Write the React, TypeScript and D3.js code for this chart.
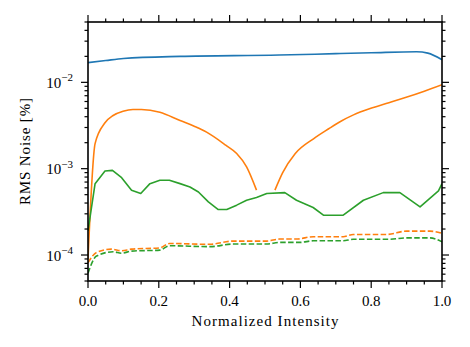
import React from "react";
import * as d3 from "d3";

const blueX = [0, 0.05, 0.1, 0.26, 0.54, 0.7, 0.8, 0.928, 0.96, 1.0];
const blueY = [0.0169, 0.0179, 0.0189, 0.02, 0.0207, 0.0215, 0.022, 0.0226, 0.0218, 0.0183];

const orangeX = [0, 0.02, 0.048, 0.071, 0.099, 0.127, 0.151, 0.203, 0.26, 0.3, 0.335, 0.39, 0.42, 0.448, 0.476, 0.5,
  0.528, 0.55, 0.585, 0.637, 0.68, 0.712, 0.75, 0.797, 0.85, 0.89, 0.95, 1.0];
const orangeY = [9e-5, 0.00195, 0.0034, 0.00413, 0.00463, 0.00485, 0.00485, 0.00451, 0.00361, 0.0031, 0.00265, 0.00186, 0.0015, 0.00105, 0.000564, NaN,
  0.000564, 0.0009, 0.00149, 0.00222, 0.0029, 0.0035, 0.0042, 0.00497, 0.0058, 0.00653, 0.0079, 0.0094];

const greenX = [0, 0.02, 0.048, 0.069, 0.095, 0.123, 0.149, 0.175, 0.203, 0.23, 0.26, 0.288, 0.312, 0.34, 0.368, 0.392,
  0.42, 0.448, 0.476, 0.505, 0.556, 0.589, 0.636, 0.665, 0.721, 0.778, 0.834, 0.881, 0.938, 0.99, 1.0];
const greenY = [1.9e-4, 6.71e-4, 9.38e-4, 9.56e-4, 7.87e-4, 5.62e-4, 5.15e-4, 6.71e-4, 7.33e-4, 7.33e-4, 6.71e-4, 6.14e-4,
  5.37e-4, 4.12e-4, 3.36e-4, 3.36e-4, 3.78e-4, 4.31e-4, 4.63e-4, 5.15e-4, 5.28e-4, 4.31e-4, 3.55e-4, 2.89e-4, 2.89e-4,
  4.31e-4, 5.28e-4, 5.28e-4, 3.61e-4, 5.52e-4, 6.71e-4];

const orangeDashX = [0, 0.024, 0.066, 0.095, 0.123, 0.203, 0.23, 0.344, 0.41, 0.504, 0.542, 0.589, 0.636, 0.721, 0.749, 0.843, 0.9, 0.966, 1.0];
const orangeDashY = [8.15e-5, 1.07e-4, 1.17e-4, 1.12e-4, 1.17e-4, 1.21e-4, 1.36e-4, 1.33e-4, 1.45e-4, 1.45e-4, 1.53e-4, 1.53e-4,
  1.63e-4, 1.63e-4, 1.73e-4, 1.73e-4, 1.89e-4, 1.89e-4, 1.78e-4];

const greenDashX = [0, 0.024, 0.071, 0.095, 0.123, 0.203, 0.23, 0.344, 0.41, 0.504, 0.542, 0.599, 0.636, 0.721, 0.749, 0.85, 0.9, 0.966, 1.0];
const greenDashY = [6.15e-5, 9.74e-5, 1.09e-4, 1.05e-4, 1.11e-4, 1.14e-4, 1.28e-4, 1.25e-4, 1.34e-4, 1.34e-4, 1.40e-4, 1.40e-4,
  1.46e-4, 1.46e-4, 1.52e-4, 1.52e-4, 1.58e-4, 1.58e-4, 1.42e-4];

const xTickValues = [0, 0.2, 0.4, 0.6, 0.8, 1.0];
const xTickLabels = ["0.0", "0.2", "0.4", "0.6", "0.8", "1.0"];
const yTickValues = [1e-4, 1e-3, 1e-2];
const yTickExponents = ["\u22124", "\u22123", "\u22122"];

const xLabel = "Normalized Intensity";
const yLabel = "RMS Noise [%]";

const W = 470, H = 347;
const M = { left: 88, right: 28, top: 22, bottom: 66 };
const FONT = "'Liberation Serif', 'DejaVu Serif', serif";

export default function App() {
  const x = d3.scaleLinear().domain([0, 1]).range([M.left, W - M.right]);
  const y = d3.scaleLog().domain([5e-5, 5e-2]).range([H - M.bottom, M.top]);
  const x0 = M.left, x1 = W - M.right, y0 = H - M.bottom, y1 = M.top;

  const mk = (xs: number[], ys: number[], curve: any) =>
    d3.line<number>()
      .defined((i) => !isNaN(ys[i]))
      .x((i) => x(xs[i]))
      .y((i) => y(ys[i]))
      .curve(curve)(xs.map((_, i) => i)) || "";

  const series = [
    { d: mk(blueX, blueY, d3.curveMonotoneX), c: "#1f77b4", dash: undefined },
    { d: mk(orangeX, orangeY, d3.curveMonotoneX), c: "#ff7f0e", dash: undefined },
    { d: mk(greenX, greenY, d3.curveLinear), c: "#2ca02c", dash: undefined },
    { d: mk(orangeDashX, orangeDashY, d3.curveMonotoneX), c: "#ff7f0e", dash: "5.5,2.4" },
    { d: mk(greenDashX, greenDashY, d3.curveMonotoneX), c: "#2ca02c", dash: "5.5,2.4" },
  ];

  const xMinor = d3.range(0, 1.0001, 0.05).filter((v) => Math.abs(v / 0.2 - Math.round(v / 0.2)) > 1e-6);
  const yMinor: number[] = [];
  for (let e = -5; e <= -2; e++) for (let k = 2; k <= 9; k++) {
    const v = k * Math.pow(10, e);
    if (v >= 5e-5 && v <= 5e-2 + 1e-12) yMinor.push(v);
  }

  const tickStroke = { stroke: "#000", strokeWidth: 1.2 };

  return (
    <svg width={W} height={H} style={{ position: "fixed", left: 0, top: 0, background: "#fff" }} fontFamily={FONT}>
      <rect x={0} y={0} width={W} height={H} fill="#fff" />
      <defs>
        <clipPath id="plotclip">
          <rect x={x0} y={y1} width={x1 - x0} height={y0 - y1} />
        </clipPath>
      </defs>
      <g clipPath="url(#plotclip)">
        {series.map((s, i) => (
          <path key={i} d={s.d} fill="none" stroke={s.c} strokeWidth={1.6} strokeDasharray={s.dash} strokeLinejoin="round" />
        ))}
      </g>
      {xTickValues.map((v, i) => (
        <g key={"xt" + i}>
          <line x1={x(v)} x2={x(v)} y1={y0} y2={y0 + 7} {...tickStroke} />
          <line x1={x(v)} x2={x(v)} y1={y1} y2={y1 - 7} {...tickStroke} />
          <text x={x(v)} y={y0 + 25} textAnchor="middle" fontSize={15} textLength={18.5} lengthAdjust="spacing">{xTickLabels[i]}</text>
        </g>
      ))}
      {xMinor.map((v, i) => (
        <g key={"xm" + i}>
          <line x1={x(v)} x2={x(v)} y1={y0} y2={y0 + 3.5} {...tickStroke} />
          <line x1={x(v)} x2={x(v)} y1={y1} y2={y1 - 3.5} {...tickStroke} />
        </g>
      ))}
      {yTickValues.map((v, i) => (
        <g key={"yt" + i}>
          <line x1={x0} x2={x0 - 7} y1={y(v)} y2={y(v)} {...tickStroke} />
          <line x1={x1} x2={x1 + 7} y1={y(v)} y2={y(v)} {...tickStroke} />
          <text x={x0 - 15} y={y(v) + 5.5} textAnchor="end" fontSize={15}>
            10<tspan fontSize={11} dy={-6.5}>{yTickExponents[i]}</tspan>
          </text>
        </g>
      ))}
      {yMinor.map((v, i) => (
        <g key={"ym" + i}>
          <line x1={x0} x2={x0 - 3.5} y1={y(v)} y2={y(v)} {...tickStroke} />
          <line x1={x1} x2={x1 + 3.5} y1={y(v)} y2={y(v)} {...tickStroke} />
        </g>
      ))}
      <rect x={x0} y={y1} width={x1 - x0} height={y0 - y1} fill="none" stroke="#000" strokeWidth={1.6} />
      <text x={(x0 + x1) / 2} y={326} textAnchor="middle" fontSize={15} textLength={147} lengthAdjust="spacing">{xLabel}</text>
      <text transform={`translate(30, ${(y0 + y1) / 2}) rotate(-90)`} textAnchor="middle" fontSize={15} textLength={107} lengthAdjust="spacing">{yLabel}</text>
    </svg>
  );
}
